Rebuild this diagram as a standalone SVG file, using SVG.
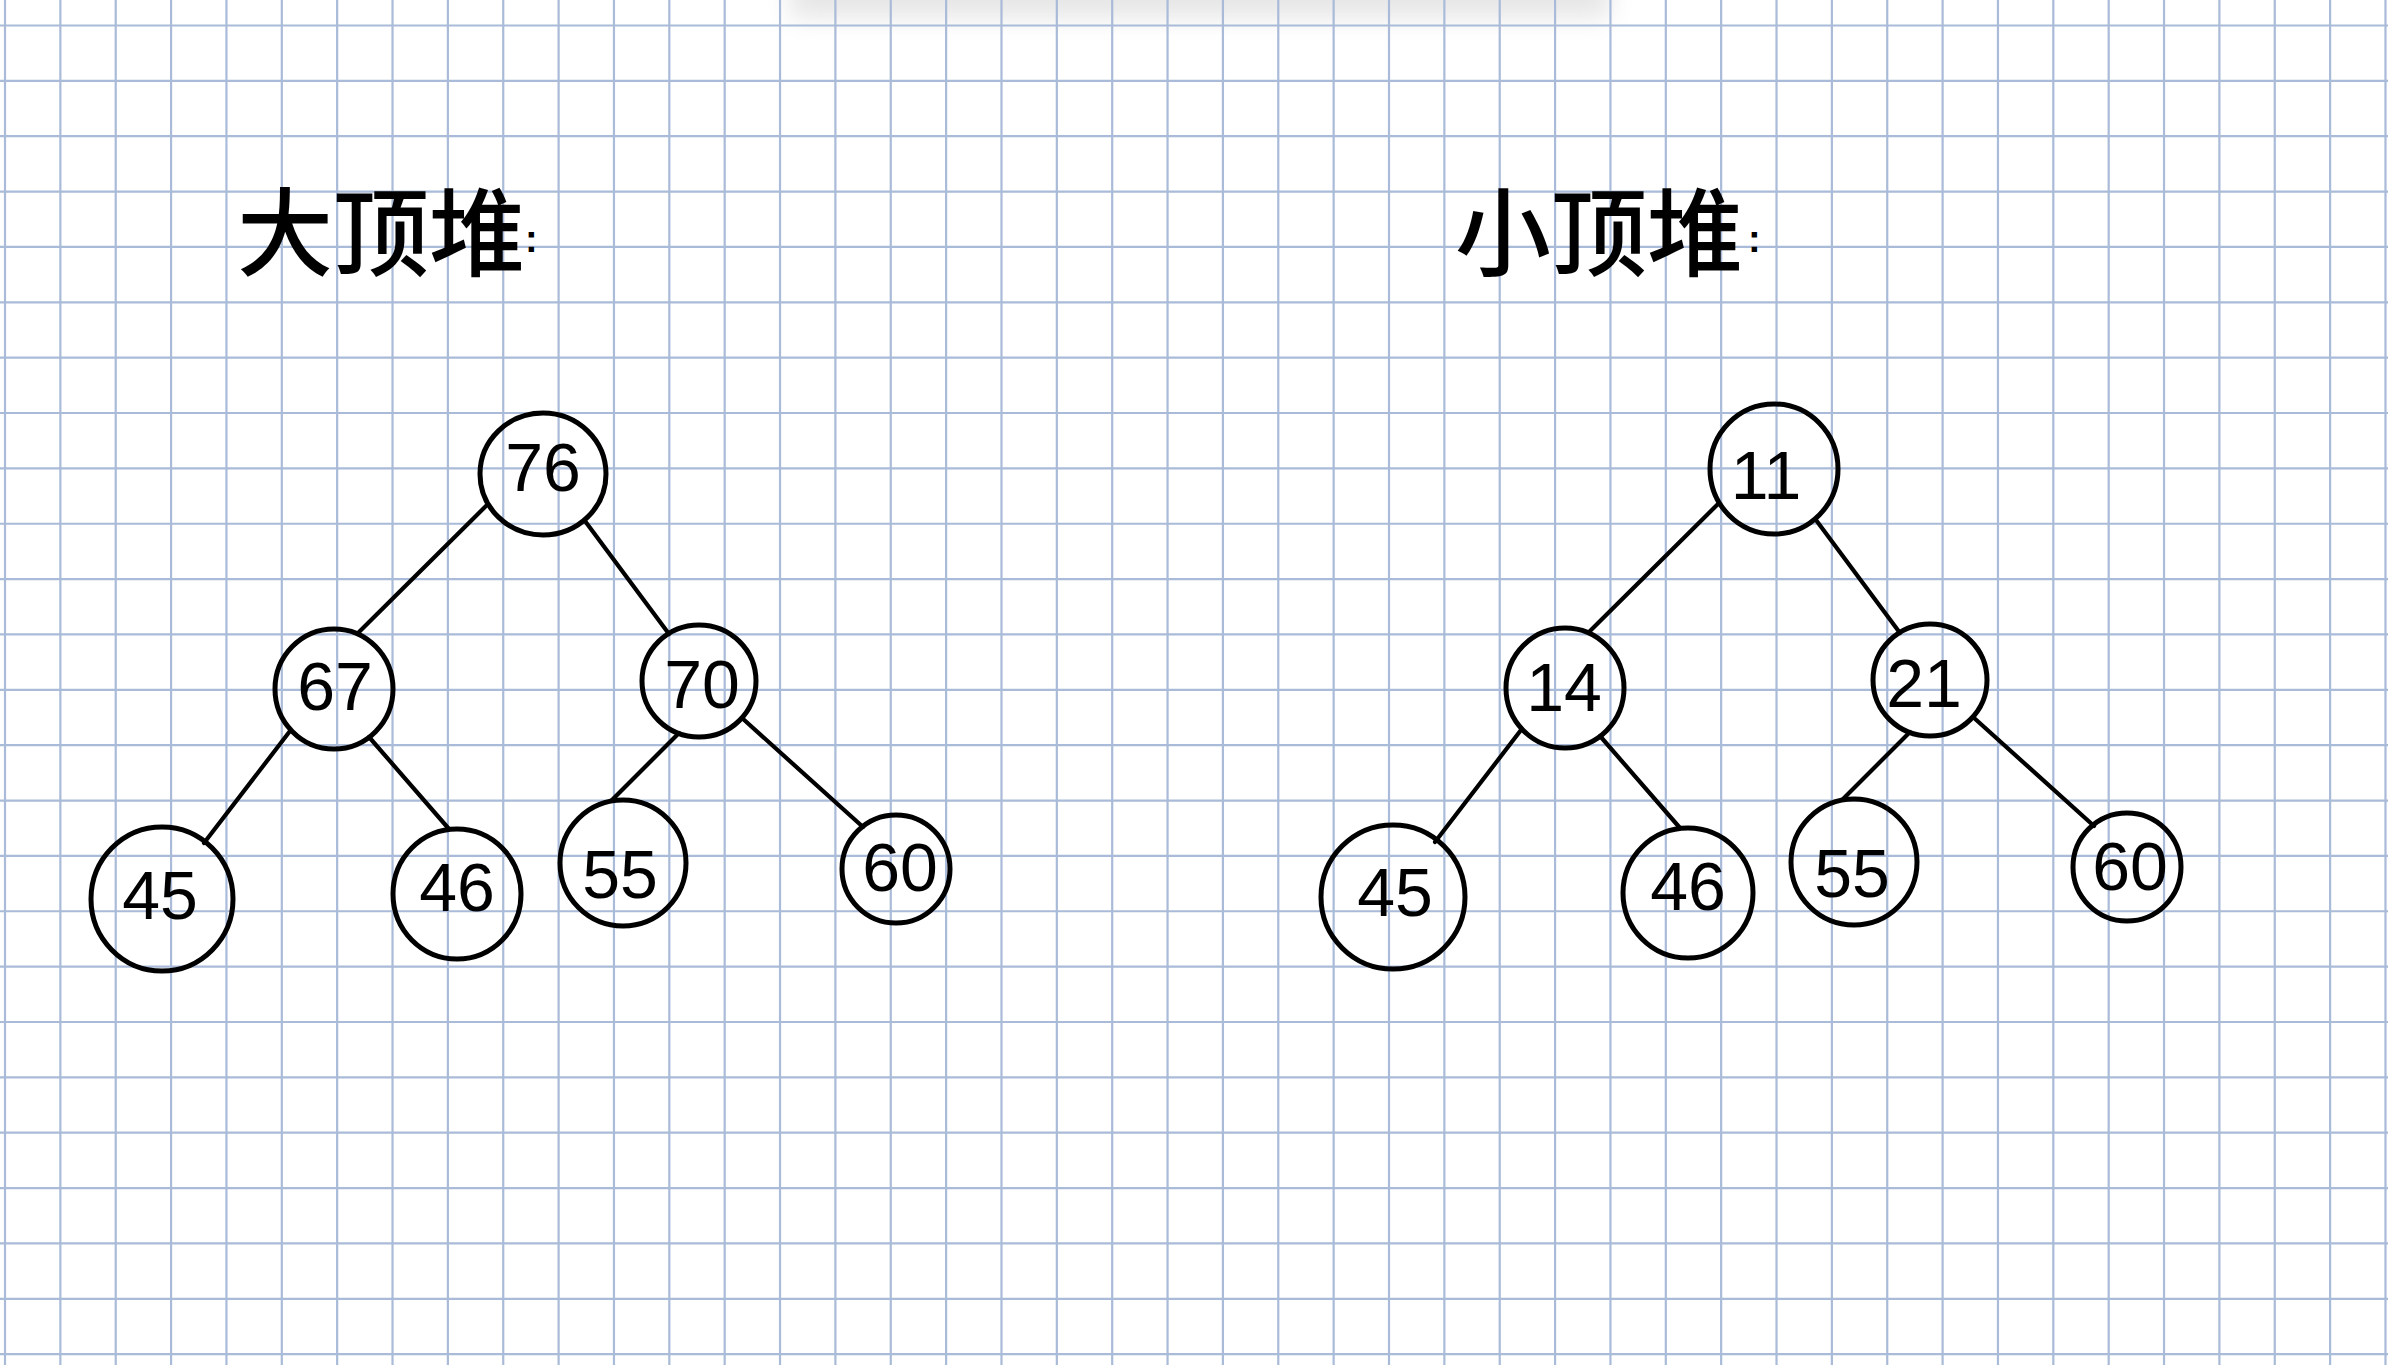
<svg xmlns="http://www.w3.org/2000/svg" width="2388" height="1365" viewBox="0 0 2388 1365">
<defs>
<filter id="blur" x="-20%" y="-200%" width="140%" height="500%"><feGaussianBlur stdDeviation="12"/></filter>
<style>
.grid{stroke:#a9bbd8;stroke-width:2.2;fill:none}
.node ellipse{fill:none;stroke:#000;stroke-width:5}
.node text{font-family:"Liberation Sans",Arial,sans-serif;font-size:68px;fill:#000;text-anchor:middle}
.edge{stroke:#000;stroke-width:4.2;stroke-linecap:round}
.title{font-family:"Noto Sans CJK SC","Noto Sans CJK JP",sans-serif;font-size:96px;font-weight:500;fill:#000}
.colon{font-family:"Liberation Sans",Arial,sans-serif;font-size:38px;font-weight:700}
</style>
</defs>
<rect x="0" y="0" width="2388" height="1365" fill="#ffffff"/>
<rect x="790" y="-30" width="820" height="48" fill="#e6e6e6" filter="url(#blur)"/>
<g id="grid">
<path class="grid" d="M5 0V1365M60.36 0V1365M115.72 0V1365M171.08 0V1365M226.44 0V1365M281.8 0V1365M337.16 0V1365M392.52 0V1365M447.88 0V1365M503.24 0V1365M558.6 0V1365M613.96 0V1365M669.32 0V1365M724.68 0V1365M780.04 0V1365M835.4 0V1365M890.76 0V1365M946.12 0V1365M1001.48 0V1365M1056.84 0V1365M1112.2 0V1365M1167.56 0V1365M1222.92 0V1365M1278.28 0V1365M1333.64 0V1365M1389 0V1365M1444.36 0V1365M1499.72 0V1365M1555.08 0V1365M1610.44 0V1365M1665.8 0V1365M1721.16 0V1365M1776.52 0V1365M1831.88 0V1365M1887.24 0V1365M1942.6 0V1365M1997.96 0V1365M2053.32 0V1365M2108.68 0V1365M2164.04 0V1365M2219.4 0V1365M2274.76 0V1365M2330.12 0V1365M2385.48 0V1365"/>
<path class="grid" d="M0 25.5H2388M0 80.86H2388M0 136.22H2388M0 191.58H2388M0 246.94H2388M0 302.3H2388M0 357.66H2388M0 413.02H2388M0 468.38H2388M0 523.74H2388M0 579.1H2388M0 634.46H2388M0 689.82H2388M0 745.18H2388M0 800.54H2388M0 855.9H2388M0 911.26H2388M0 966.62H2388M0 1021.98H2388M0 1077.34H2388M0 1132.7H2388M0 1188.06H2388M0 1243.42H2388M0 1298.78H2388M0 1354.14H2388"/>
</g>
<g id="titles">
<text class="title" x="237" y="268">大顶堆<tspan class="colon" x="525" y="252">:</tspan></text>
<text class="title" x="1455" y="268">小顶堆<tspan class="colon" x="1748" y="252">:</tspan></text>
</g>
<g id="connectors">
<line class="edge" x1="487" y1="505" x2="358" y2="633"/>
<line class="edge" x1="585" y1="521" x2="669" y2="634"/>
<line class="edge" x1="290" y1="731" x2="204" y2="843"/>
<line class="edge" x1="369" y1="737" x2="449" y2="829"/>
<line class="edge" x1="679" y1="733" x2="611" y2="801"/>
<line class="edge" x1="742" y1="718" x2="863" y2="827"/>
<line class="edge" x1="1718" y1="504" x2="1589" y2="632"/>
<line class="edge" x1="1816" y1="520" x2="1900" y2="633"/>
<line class="edge" x1="1521" y1="730" x2="1435" y2="842"/>
<line class="edge" x1="1600" y1="736" x2="1680" y2="828"/>
<line class="edge" x1="1910" y1="732" x2="1842" y2="800"/>
<line class="edge" x1="1973" y1="717" x2="2094" y2="826"/>
</g>
<g id="max-76" class="node"><ellipse cx="543" cy="474" rx="63" ry="61"/><text x="543" y="491">76</text></g>
<g id="max-67" class="node"><ellipse cx="334" cy="689" rx="59" ry="60"/><text x="335" y="710">67</text></g>
<g id="max-70" class="node"><ellipse cx="699" cy="681" rx="57" ry="56"/><text x="702" y="708">70</text></g>
<g id="max-45" class="node"><ellipse cx="162" cy="899" rx="71" ry="72"/><text x="160" y="919">45</text></g>
<g id="max-46" class="node"><ellipse cx="457" cy="894" rx="64" ry="65"/><text x="457" y="911">46</text></g>
<g id="max-55" class="node"><ellipse cx="623" cy="863" rx="63" ry="63"/><text x="620" y="898">55</text></g>
<g id="max-60" class="node"><ellipse cx="896" cy="869" rx="54" ry="54"/><text x="900" y="891">60</text></g>
<g id="min-11" class="node"><ellipse cx="1774" cy="469" rx="64" ry="65"/><text x="1766" y="499">11</text></g>
<g id="min-14" class="node"><ellipse cx="1565" cy="688" rx="59" ry="60"/><text x="1564" y="711">14</text></g>
<g id="min-21" class="node"><ellipse cx="1930" cy="680" rx="57" ry="56"/><text x="1924" y="707">21</text></g>
<g id="min-45" class="node"><ellipse cx="1393" cy="897" rx="72" ry="72"/><text x="1395" y="916">45</text></g>
<g id="min-46" class="node"><ellipse cx="1688" cy="893" rx="65" ry="65"/><text x="1688" y="910">46</text></g>
<g id="min-55" class="node"><ellipse cx="1854" cy="862" rx="63" ry="63"/><text x="1852" y="897">55</text></g>
<g id="min-60" class="node"><ellipse cx="2127" cy="867" rx="54" ry="54"/><text x="2130" y="890">60</text></g>
</svg>
